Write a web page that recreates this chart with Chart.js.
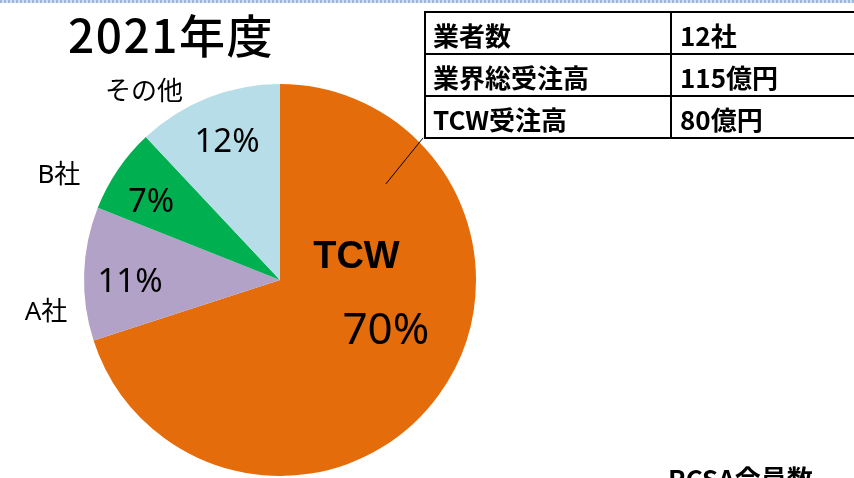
<!DOCTYPE html>
<html>
<head>
<meta charset="utf-8">
<script src="https://cdn.jsdelivr.net/npm/chart.js@4"></script>
<style>
  html, body { margin: 0; padding: 0; background: #fff; }
  body { width: 854px; height: 478px; position: relative; overflow: hidden; }
  .band { position: absolute; left: 0; top: 0; width: 854px; height: 3px;
    background: repeating-linear-gradient(90deg, #9fb6e0 0 2px, #d3def2 2px 4px); }
  #title { position: absolute; left: 68px; top: 0px; font: 500 46px "Noto Sans CJK JP", "Noto Sans", sans-serif; color: #000; letter-spacing: 1.5px; }
  #wrap { position: absolute; left: 0; top: 0; width: 854px; height: 478px; }
  table { position: absolute; left: 424px; top: 11px; border-collapse: collapse; width: 460px;
    font: 700 26px "Noto Sans CJK JP", sans-serif; color: #000; }
  td { border-top: 2px solid #000; border-bottom: 2px solid #000; height: 40px; padding: 0 0 0 7px;
    vertical-align: bottom; line-height: 36px; }
  td:first-child { border-left: 2px solid #000; width: 237px; }
  td:nth-child(2) { border-left: 2px solid #000; padding-left: 8px; }
  #foot { position: absolute; left: 668px; top: 459px; font: 700 26px "Noto Sans CJK JP", sans-serif; color: #000; }
</style>
</head>
<body>
<div class="band"></div>
<div id="wrap"><canvas id="pie-chart" width="854" height="478"></canvas></div>
<div id="title">2021年度</div>
<table id="info"></table>
<div id="foot">RCSA会員数</div>
<script>
const labels = ["TCW", "A社", "B社", "その他"],
  values = [70, 11, 7, 12],
  colors = ["#e46c0a", "#b2a2c7", "#00b050", "#b7dee8"],
  infoNames = ["業者数", "業界総受注高", "TCW受注高"],
  infoValues = ["12社", "115億円", "80億円"];

document.getElementById("info").innerHTML = infoNames
  .map((n, i) => `<tr><td>${n}</td><td>${infoValues[i]}</td></tr>`)
  .join("");

// label anchors, as fractions of the radius from the pie centre
const pctSpots = [[0.54, 0.265], [-0.765, 0.015], [-0.658, -0.393], [-0.27, -0.70]],
  nameSpots = [[0.39, -0.117], [-1.194, 0.168], [-1.128, -0.531], [-0.694, -0.954]],
  pctFonts = [44, 33, 33, 33];

const pieLabels = {
  id: "pieLabels",
  afterDatasetsDraw(chart) {
    const ctx = chart.ctx,
      arcs = chart.getDatasetMeta(0).data,
      cx = arcs[0].x,
      cy = arcs[0].y,
      r = arcs[0].outerRadius,
      total = values.reduce((a, b) => a + b, 0);
    ctx.save();
    ctx.textAlign = "center";
    ctx.textBaseline = "middle";
    ctx.fillStyle = "#000";
    values.forEach((v, i) => {
      const pct = Math.round((v / total) * 100) + "%";
      ctx.font = `${pctFonts[i]}px "Noto Sans", "Noto Sans CJK JP", sans-serif`;
      ctx.fillText(pct, cx + pctSpots[i][0] * r, cy + pctSpots[i][1] * r);
      ctx.font = i === 0
        ? 'bold 38px "Liberation Sans", Arial, sans-serif'
        : '26px "Noto Sans", "Noto Sans CJK JP", sans-serif';
      ctx.fillText(labels[i], cx + nameSpots[i][0] * r, cy + nameSpots[i][1] * r);
    });
    // leader line up to the table
    ctx.strokeStyle = "#000";
    ctx.lineWidth = 1;
    ctx.beginPath();
    ctx.moveTo(cx + 0.54 * r, cy - 0.49 * r);
    ctx.lineTo(cx + 0.73 * r, cy - 0.725 * r);
    ctx.stroke();
    ctx.restore();
  },
};

new Chart(document.getElementById("pie-chart").getContext("2d"), {
  type: "pie",
  data: {
    labels,
    datasets: [{ data: values, backgroundColor: colors, borderWidth: 0 }],
  },
  options: {
    responsive: false,
    animation: false,
    layout: { padding: { left: 84, top: 84, right: 378, bottom: 2 } },
    plugins: { legend: { display: false }, tooltip: { enabled: false } },
  },
  plugins: [pieLabels],
});
</script>
</body>
</html>
